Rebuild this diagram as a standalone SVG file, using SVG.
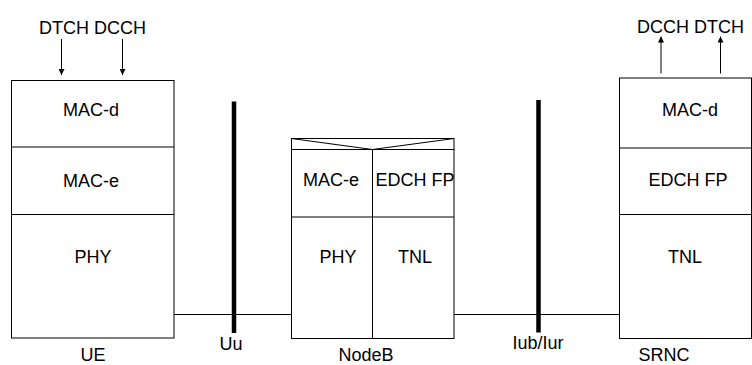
<svg xmlns="http://www.w3.org/2000/svg" width="752" height="365" viewBox="0 0 752 365">
<defs>
<marker id="ah" viewBox="0 0 6 6" refX="6" refY="3" markerWidth="6" markerHeight="6" markerUnits="userSpaceOnUse" orient="auto">
<path d="M0,0 L6,3 L0,6 Z" fill="#000"/>
</marker>
<style>
text{font-family:"Liberation Sans",Arial,sans-serif;font-size:18px;fill:#000}
.m{text-anchor:middle}
.box{fill:#fff;stroke:#000;stroke-width:1}
.ln{stroke:#000;stroke-width:1;fill:none}
.bar{stroke:#000;stroke-width:4.5}
.arr{stroke:#000;stroke-width:1;marker-end:url(#ah)}
</style>
</defs>
<rect width="752" height="365" fill="#fff"/>
<g id="connectors">
<line class="ln" x1="174" y1="314.5" x2="291.5" y2="314.5"/>
<line class="ln" x1="454" y1="314.5" x2="619.5" y2="314.5"/>
<line class="bar" x1="234" y1="101.5" x2="234" y2="333"/>
<line class="bar" x1="538.5" y1="100" x2="538.5" y2="332.5"/>
<line class="arr" x1="61.5" y1="39" x2="61.5" y2="75"/>
<line class="arr" x1="122.5" y1="39" x2="122.5" y2="75"/>
<line class="arr" x1="661" y1="73.5" x2="661" y2="36.5"/>
<line class="arr" x1="720.5" y1="73.5" x2="720.5" y2="36.5"/>
</g>
<g id="ue">
<rect class="box" x="11.5" y="80.5" width="162.5" height="257.5"/>
<line class="ln" x1="11.5" y1="147" x2="174" y2="147"/>
<line class="ln" x1="11.5" y1="214.5" x2="174" y2="214.5"/>
<text class="m" x="91" y="116">MAC-d</text>
<text class="m" x="91" y="186.5">MAC-e</text>
<text class="m" x="93" y="263">PHY</text>
<text class="m" x="93" y="361">UE</text>
<text x="39" y="34">DTCH DCCH</text>
</g>
<g id="uu">
<text class="m" x="231" y="350">Uu</text>
</g>
<g id="nodeb">
<rect class="box" x="291.5" y="138.5" width="162.5" height="200"/>
<polyline class="ln" points="291.5,138.5 372.5,149.5 454,138.5"/>
<line class="ln" x1="291.5" y1="149.5" x2="454" y2="149.5"/>
<line class="ln" x1="372.5" y1="149.5" x2="372.5" y2="338.5"/>
<line class="ln" x1="291.5" y1="217" x2="454" y2="217"/>
<text class="m" x="331" y="186">MAC-e</text>
<text x="375.5" y="186">EDCH FP</text>
<text class="m" x="338" y="263">PHY</text>
<text class="m" x="415" y="263">TNL</text>
<text class="m" x="366" y="361">NodeB</text>
</g>
<g id="iub">
<text class="m" x="538" y="349">Iub/Iur</text>
</g>
<g id="srnc">
<rect class="box" x="619.5" y="78" width="132" height="260.5"/>
<line class="ln" x1="619.5" y1="148" x2="752" y2="148"/>
<line class="ln" x1="619.5" y1="214.5" x2="752" y2="214.5"/>
<text class="m" x="690" y="116">MAC-d</text>
<text class="m" x="688" y="186">EDCH FP</text>
<text class="m" x="685" y="263">TNL</text>
<text class="m" x="664" y="360.5">SRNC</text>
<text x="637" y="33">DCCH DTCH</text>
</g>
</svg>
